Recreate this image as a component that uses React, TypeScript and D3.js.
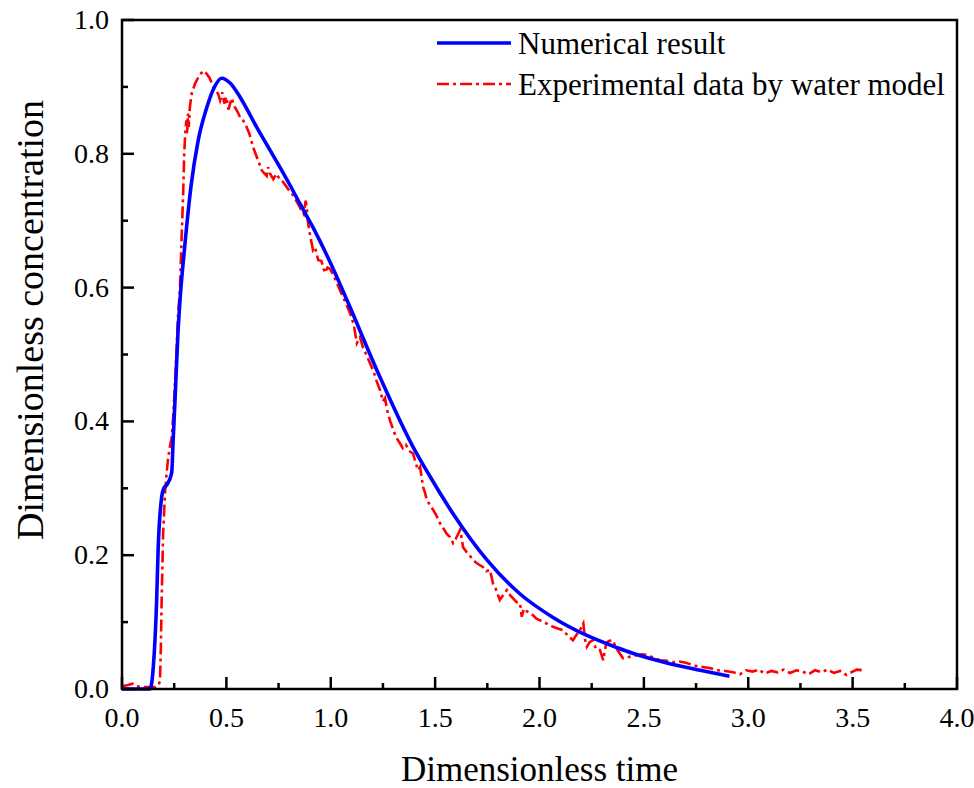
import React from "react";
import * as d3 from "d3";

const numT = [0, 0.134, 0.15, 0.166, 0.173, 0.19, 0.2, 0.214, 0.238, 0.245, 0.254, 0.268, 0.28, 0.3, 0.33, 0.365, 0.405, 0.44, 0.477, 0.52, 0.565, 0.645, 0.725, 0.805, 0.853, 0.915, 1.0, 1.078, 1.236, 1.394, 1.475, 1.586, 1.748, 1.907, 2.065, 2.227, 2.37, 2.45, 2.61, 2.77, 2.91];
const numV = [0, 0, 0.033, 0.133, 0.208, 0.287, 0.3, 0.305, 0.323, 0.372, 0.432, 0.532, 0.59, 0.66, 0.75, 0.82, 0.868, 0.898, 0.913, 0.905, 0.885, 0.84, 0.797, 0.753, 0.725, 0.69, 0.636, 0.581, 0.466, 0.362, 0.318, 0.262, 0.193, 0.142, 0.107, 0.08, 0.062, 0.053, 0.039, 0.028, 0.019];

const expT = [0, 0.03, 0.05, 0.07, 0.1, 0.13, 0.16, 0.175, 0.182, 0.186, 0.19, 0.197, 0.206, 0.213, 0.22, 0.228, 0.238, 0.246, 0.254, 0.262, 0.268, 0.278, 0.285, 0.293, 0.298, 0.303, 0.308, 0.312, 0.316, 0.32, 0.325, 0.334, 0.35, 0.37, 0.39, 0.405, 0.42, 0.445, 0.46, 0.47, 0.48, 0.49, 0.5, 0.51, 0.525, 0.54, 0.555, 0.565, 0.58, 0.597, 0.61, 0.628, 0.64, 0.652, 0.67, 0.693, 0.7, 0.71, 0.725, 0.74, 0.757, 0.772, 0.79, 0.805, 0.82, 0.843, 0.86, 0.87, 0.88, 0.885, 0.89, 0.9, 0.915, 0.925, 0.94, 0.955, 0.972, 0.985, 0.996, 1.01, 1.025, 1.044, 1.06, 1.075, 1.092, 1.11, 1.125, 1.14, 1.155, 1.17, 1.188, 1.205, 1.22, 1.236, 1.25, 1.26, 1.27, 1.285, 1.3, 1.315, 1.33, 1.345, 1.36, 1.38, 1.394, 1.405, 1.418, 1.428, 1.442, 1.45, 1.46, 1.475, 1.49, 1.505, 1.523, 1.54, 1.555, 1.571, 1.586, 1.6, 1.62, 1.634, 1.65, 1.665, 1.681, 1.7, 1.715, 1.73, 1.745, 1.763, 1.777, 1.79, 1.81, 1.825, 1.844, 1.86, 1.875, 1.89, 1.907, 1.915, 1.925, 1.94, 1.954, 1.97, 1.985, 2.0, 2.02, 2.04, 2.065, 2.09, 2.113, 2.135, 2.16, 2.175, 2.194, 2.21, 2.22, 2.227, 2.24, 2.257, 2.27, 2.29, 2.305, 2.32, 2.335, 2.35, 2.37, 2.4, 2.43, 2.46, 2.49, 2.515, 2.545, 2.577, 2.61, 2.64, 2.67, 2.706, 2.74, 2.783, 2.82, 2.85, 2.89, 2.927, 2.96, 2.99, 3.02, 3.05, 3.08, 3.11, 3.14, 3.17, 3.2, 3.23, 3.26, 3.29, 3.32, 3.35, 3.38, 3.41, 3.44, 3.47, 3.5, 3.52, 3.55];
const expV = [0.004, 0.006, 0.008, 0.004, 0.003, 0.003, 0.003, 0.006, 0.012, 0.06, 0.133, 0.233, 0.293, 0.32, 0.342, 0.36, 0.375, 0.41, 0.457, 0.51, 0.556, 0.6, 0.67, 0.74, 0.8, 0.83, 0.85, 0.83, 0.86, 0.84, 0.87, 0.89, 0.905, 0.917, 0.924, 0.92, 0.913, 0.895, 0.89, 0.88, 0.892, 0.875, 0.885, 0.866, 0.883, 0.87, 0.862, 0.855, 0.85, 0.84, 0.83, 0.81, 0.8, 0.79, 0.775, 0.767, 0.78, 0.77, 0.762, 0.77, 0.761, 0.758, 0.75, 0.743, 0.738, 0.725, 0.715, 0.71, 0.73, 0.72, 0.7, 0.68, 0.656, 0.66, 0.641, 0.64, 0.622, 0.63, 0.628, 0.62, 0.61, 0.596, 0.585, 0.575, 0.562, 0.545, 0.517, 0.526, 0.51, 0.5, 0.487, 0.475, 0.46, 0.447, 0.43, 0.435, 0.417, 0.4, 0.387, 0.375, 0.368, 0.36, 0.365, 0.355, 0.352, 0.34, 0.327, 0.332, 0.302, 0.295, 0.283, 0.275, 0.268, 0.26, 0.248, 0.24, 0.232, 0.227, 0.218, 0.225, 0.238, 0.212, 0.205, 0.2, 0.193, 0.188, 0.185, 0.182, 0.176, 0.178, 0.158, 0.15, 0.133, 0.14, 0.148, 0.14, 0.135, 0.13, 0.128, 0.108, 0.12, 0.116, 0.114, 0.11, 0.105, 0.103, 0.1, 0.097, 0.093, 0.09, 0.088, 0.08, 0.073, 0.08, 0.088, 0.098, 0.07, 0.063, 0.07, 0.073, 0.06, 0.058, 0.043, 0.069, 0.072, 0.073, 0.06, 0.046, 0.048, 0.05, 0.052, 0.051, 0.047, 0.043, 0.042, 0.04, 0.041, 0.039, 0.035, 0.033, 0.031, 0.028, 0.027, 0.025, 0.022, 0.028, 0.026, 0.029, 0.023, 0.027, 0.025, 0.029, 0.024, 0.028, 0.026, 0.022, 0.028, 0.025, 0.029, 0.024, 0.027, 0.021, 0.026, 0.029, 0.028];

const xTicks = [0, 0.5, 1.0, 1.5, 2.0, 2.5, 3.0, 3.5, 4.0];
const xMinor = [0.25, 0.75, 1.25, 1.75, 2.25, 2.75, 3.25, 3.75];
const yTicks = [0, 0.2, 0.4, 0.6, 0.8, 1.0];
const yMinor = [0.1, 0.3, 0.5, 0.7, 0.9];
const seriesNames = ["Numerical result", "Experimental data by water model"];

const FONT = "'Liberation Serif', 'Times New Roman', serif";

export default function App() {
  const L = 122, R = 957, T = 20, B = 689;
  const x = d3.scaleLinear().domain([0, 4]).range([L, R]);
  const y = d3.scaleLinear().domain([0, 1]).range([B, T]);
  const numData = numT.map((t, i) => [t, numV[i]] as [number, number]);
  const expData = expT.map((t, i) => [t, expV[i]] as [number, number]);
  const lineNum = d3.line<[number, number]>().x(d => x(d[0])).y(d => y(d[1])).curve(d3.curveMonotoneX);
  const lineExp = d3.line<[number, number]>().x(d => x(d[0])).y(d => y(d[1]));
  const dash = "12,4,3,4";
  return (
    <svg width={974} height={788} style={{ position: "absolute", left: 0, top: 0, background: "#fff" }} fontFamily={FONT}>
      <rect x={0} y={0} width={974} height={788} fill="#fff" />
      <path d={lineExp(expData) || ""} fill="none" stroke="#ff0000" strokeWidth={2.6} strokeDasharray={dash} />
      <path d={lineNum(numData) || ""} fill="none" stroke="#0000ff" strokeWidth={3.6} />
      <rect x={L} y={T} width={R - L} height={B - T} fill="none" stroke="#000" strokeWidth={2.5} />
      {xTicks.map(t => (
        <g key={"xt" + t}>
          <line x1={x(t)} x2={x(t)} y1={B} y2={B - 12} stroke="#000" strokeWidth={2.5} />
          <text x={x(t)} y={727} fontSize={28} textAnchor="middle">{t.toFixed(1)}</text>
        </g>
      ))}
      {xMinor.map(t => (
        <line key={"xm" + t} x1={x(t)} x2={x(t)} y1={B} y2={B - 6} stroke="#000" strokeWidth={2.5} />
      ))}
      {yTicks.map(t => (
        <g key={"yt" + t}>
          <line x1={L} x2={L + 12} y1={y(t)} y2={y(t)} stroke="#000" strokeWidth={2.5} />
          <text x={109} y={y(t) + 9} fontSize={28} textAnchor="end">{t.toFixed(1)}</text>
        </g>
      ))}
      {yMinor.map(t => (
        <line key={"ym" + t} x1={L} x2={L + 6} y1={y(t)} y2={y(t)} stroke="#000" strokeWidth={2.5} />
      ))}
      <text x={(L + R) / 2} y={781} fontSize={35} textAnchor="middle">Dimensionless time</text>
      <text transform={`translate(43, 320) rotate(-90)`} fontSize={38} textAnchor="middle">Dimensionless concentration</text>
      <line x1={437} x2={511} y1={43} y2={43} stroke="#0000ff" strokeWidth={3.6} />
      <text x={518} y={54} fontSize={31}>{seriesNames[0]}</text>
      <line x1={437} x2={511} y1={84} y2={84} stroke="#ff0000" strokeWidth={2.6} strokeDasharray={dash} />
      <text x={518} y={95} fontSize={31}>{seriesNames[1]}</text>
    </svg>
  );
}
